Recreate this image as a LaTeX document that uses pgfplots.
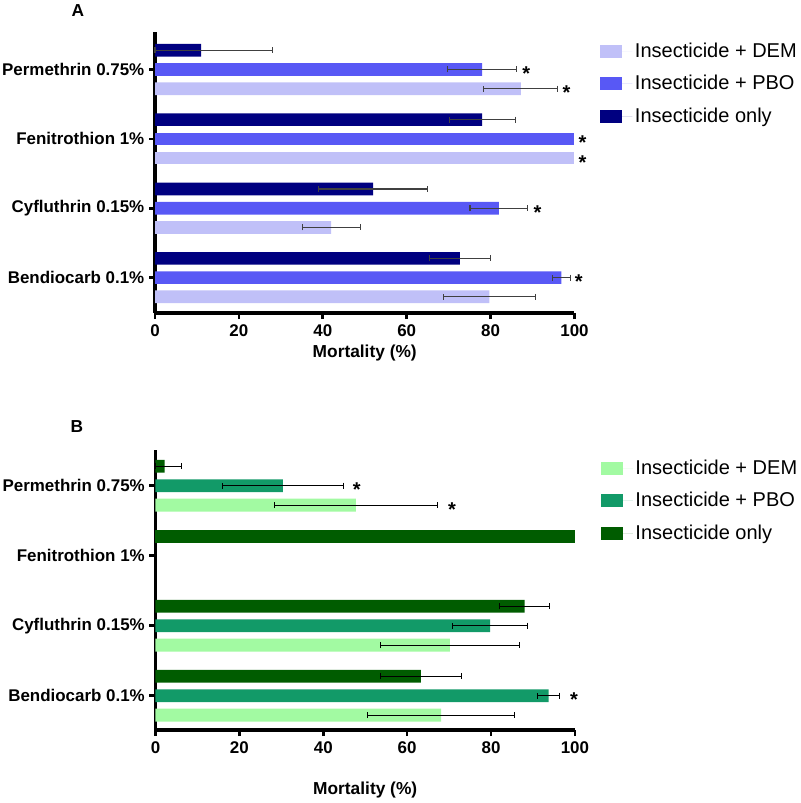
\documentclass[border=0pt]{standalone}
\usepackage{fontspec}
\setmainfont{Liberation Sans}
\usepackage{pgfplots}
\pgfplotsset{compat=1.18}

\definecolor{demA}{RGB}{192,192,248}
\definecolor{pboA}{RGB}{88,88,245}
\definecolor{onlyA}{RGB}{0,0,128}
\definecolor{demB}{RGB}{162,250,162}
\definecolor{pboB}{RGB}{18,154,104}
\definecolor{onlyB}{RGB}{0,92,0}

\pgfplotsset{
  mortstyle/.style={
    scale only axis, width=314.6pt,
    xbar, bar width=0.183, bar shift=0pt,
    xmin=0, xmax=100, xtick={0,20,...,100},
    ytick={0,1,2,3},
    yticklabels={Bendiocarb 0.1\%,Cyfluthrin 0.15\%,Fenitrothion 1\%,Permethrin 0.75\%},
    axis x line*=bottom, axis y line*=left,
    axis line style={line width=2.4pt},
    tick style={line width=2pt, black},
    tick align=outside, major tick length=4.5pt,
    /pgf/number format/assume math mode=true,
    tick label style={font=\bfseries\fontsize{12.7}{15}\selectfont},
    xticklabel style={yshift=-1pt},
    xlabel={Mortality (\%)},
    label style={font=\bfseries\fontsize{13}{15}\selectfont},
    clip=false,
    legend cell align=left,
    legend style={draw=none, fill=none, font=\fontsize{15}{18}\selectfont,
      anchor=north west, row sep=8pt, inner sep=0pt},
    legend image code/.code={\fill[##1,draw=none] (0pt,-4.9pt) rectangle (16.5pt,4.9pt);
      \path (0pt,0pt) -- (24pt,0pt);},
  },
  eb/.style={error bars/.cd, x dir=both, x explicit, error mark=|,
    error bar style={line width=0.8pt, #1},
    error mark options={line width=0.8pt, mark size=2.25pt, #1}},
}
\tikzset{sigstar/.style={font=\bfseries\fontsize{15}{15}\selectfont, yshift=-3.2pt}}

\begin{document}
\begin{tikzpicture}
\useasboundingbox (0,0) rectangle (600pt,-602.25pt);

\node[font=\bfseries\fontsize{13}{15}\selectfont] at (58.5pt,-8.25pt) {A};
\node[font=\bfseries\fontsize{13}{15}\selectfont] at (57.75pt,-320.25pt) {B};

% Panel A
\begin{axis}[mortstyle,
  at={(116.25pt,-24pt)}, anchor=north west, height=210.75pt,
  ymin=-0.51, ymax=3.54,
  xlabel style={at={(axis description cs:0.5,-0.142)}, anchor=center},
  legend style={at={(1.061,0.972)}}]
\addplot[fill=demA, draw=none, eb={black!75}] coordinates {
  (79.7,-0.277) +- (11,0) (42,0.723) +- (6.9,0) (87.2,2.723) +- (8.8,0)};
\addlegendentry{Insecticide + DEM}
\addplot[fill=demA, draw=none, forget plot] coordinates {(100,1.723)};
\addplot[fill=pboA, draw=none, eb={black!75}] coordinates {
  (96.9,0) +- (2.05,0) (82,1) +- (6.9,0) (78,3) +- (8.2,0)};
\addlegendentry{Insecticide + PBO}
\addplot[fill=pboA, draw=none, forget plot] coordinates {(100,2)};
\addplot[fill=onlyA, draw=none, eb={black!75}] coordinates {
  (72.7,0.277) +- (7.3,0) (52,1.277) +- (13,0) (78,2.277) +- (7.9,0)
  (11,3.277) += (17,0) -= (11,0)};
\addlegendentry{Insecticide only}
% significance marks
\node[sigstar] at (axis cs:88.5,3) {*};
\node[sigstar] at (axis cs:98.1,2.723) {*};
\node[sigstar] at (axis cs:101.9,2) {*};
\node[sigstar] at (axis cs:101.9,1.723) {*};
\node[sigstar] at (axis cs:91.2,1) {*};
\node[sigstar] at (axis cs:101.0,0) {*};
\end{axis}

% Panel B
\begin{axis}[mortstyle,
  at={(116.6pt,-337.5pt)}, anchor=north west, height=210pt,
  ymin=-0.49, ymax=3.51,
  xlabel style={at={(axis description cs:0.5,-0.214)}, anchor=center},
  legend style={at={(1.061,0.975)}}]
\addplot[fill=demB, draw=none, eb={black}] coordinates {
  (68.1,-0.277) +- (17.5,0) (70.2,0.723) +- (16.6,0) (47.8,2.723) +- (19.4,0)};
\addlegendentry{Insecticide + DEM}
\addplot[fill=pboB, draw=none, eb={black}] coordinates {
  (93.7,0) +- (2.6,0) (79.8,1) +- (8.9,0) (30.4,3) +- (14.4,0)};
\addlegendentry{Insecticide + PBO}
\addplot[fill=onlyB, draw=none, eb={black}] coordinates {
  (63.3,0.277) +- (9.7,0) (88,1.277) +- (5.9,0)
  (2.2,3.277) += (4,0) -= (2.2,0)};
\addlegendentry{Insecticide only}
\addplot[fill=onlyB, draw=none, forget plot] coordinates {(100,2.277)};
% significance marks
\node[sigstar] at (axis cs:48.0,3) {*};
\node[sigstar] at (axis cs:70.7,2.723) {*};
\node[sigstar] at (axis cs:99.8,0) {*};
\end{axis}
\end{tikzpicture}
\end{document}
